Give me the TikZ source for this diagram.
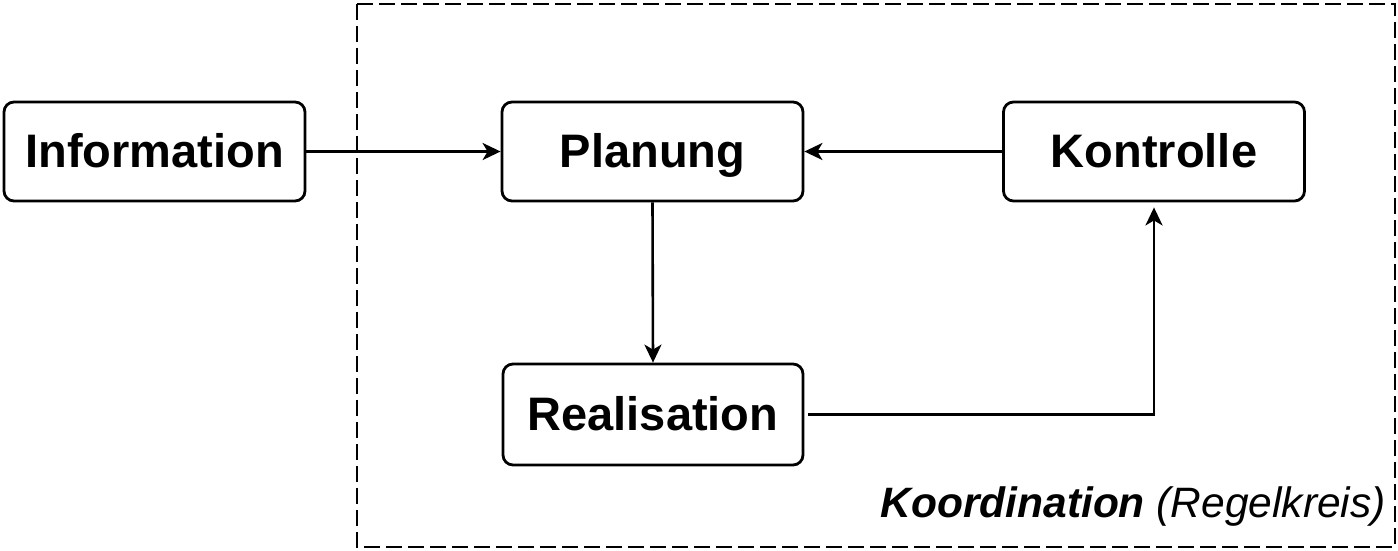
\documentclass[tikz,border=0pt]{standalone}
\usepackage{fontspec}
\setmainfont{Liberation Sans}
\usetikzlibrary{arrows.meta}
\begin{document}
\begin{tikzpicture}[x=1pt,y=-1pt,
  box/.style={draw=black, line width=2.8pt, rounded corners=10pt, inner sep=0pt,
    text height=34pt, text depth=3pt, minimum width=301pt,
    font=\fontsize{47}{56}\selectfont\bfseries},
  link/.style={line width=2.6pt, -{Stealth[length=18pt,width=17pt,inset=5pt]}}]
  \useasboundingbox (0,0) rectangle (1398,550);
  % control loop frame
  \draw[line width=2.2pt, dash pattern=on 16pt off 6pt] (357,4) rectangle (1395,547);
  \node[anchor=base east, inner sep=0pt] (label) at (1386,517)
    {\fontsize{42.5}{50}\selectfont\itshape\textbf{Koordination} (Regelkreis)};
  % process steps
  \node[box, minimum height=99pt] (info) at (154.5,151.5) {Information};
  \node[box, minimum height=99pt] (plan) at (652.5,151.5) {Planung};
  \node[box, minimum height=99pt] (ctrl) at (1154,151.5) {Kontrolle};
  \node[box, minimum width=300pt, minimum height=101pt] (real) at (653,414.5) {Realisation};
  % connectors
  \coordinate (turn) at (ctrl.south |- real.east);
  \draw[link] (info.east) -- (plan.west);
  \draw[link] (ctrl.west) -- (plan.east);
  \draw[link] (plan.south) -- (real.north);
  \draw[link, shorten >=5pt] ([xshift=4pt]real.east) -- (turn) -- (ctrl.south);
\end{tikzpicture}
\end{document}
